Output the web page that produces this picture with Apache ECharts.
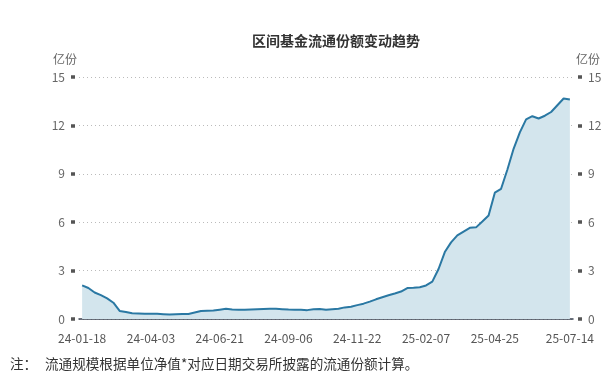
<!DOCTYPE html>
<html>
<head>
    <meta charset="utf-8">
    <title>区间基金流通份额变动趋势</title>
    <script src="https://cdn.jsdelivr.net/npm/echarts@6/dist/echarts.min.js"></script>
    <style type="text/css">
        body { margin: 0; background: #fff; }
        #main { width: 616px; height: 378px; }
    </style>
</head>
<body>
<div id="main"></div>
<script>
    // 日期（周度）
    var dates = [
        '24-01-18', '24-01-25', '24-02-01', '24-02-08', '24-02-15', '24-02-22', '24-02-29', '24-03-07', '24-03-14', '24-03-21', '24-03-28',
        '24-04-03', '24-04-12', '24-04-19', '24-04-26', '24-04-30', '24-05-10', '24-05-17', '24-05-24', '24-05-31', '24-06-07', '24-06-14',
        '24-06-21', '24-06-28', '24-07-05', '24-07-12', '24-07-19', '24-07-26', '24-08-02', '24-08-09', '24-08-16', '24-08-23', '24-08-30',
        '24-09-06', '24-09-13', '24-09-20', '24-09-27', '24-09-30', '24-10-11', '24-10-18', '24-10-25', '24-11-01', '24-11-08', '24-11-15',
        '24-11-22', '24-11-29', '24-12-06', '24-12-13', '24-12-20', '24-12-27', '25-01-03', '25-01-10', '25-01-17', '25-01-24', '25-01-27',
        '25-02-07', '25-02-14', '25-02-21', '25-02-28', '25-03-07', '25-03-14', '25-03-21', '25-03-28', '25-04-03', '25-04-11', '25-04-18',
        '25-04-25', '25-04-30', '25-05-09', '25-05-16', '25-05-23', '25-05-30', '25-06-06', '25-06-13', '25-06-20', '25-06-27', '25-07-04',
        '25-07-11', '25-07-14'
    ];
    // 流通份额（亿份）
    var shares = [
        2.08, 1.92, 1.64, 1.48, 1.28, 1.01, 0.50, 0.44, 0.36, 0.34, 0.32,
        0.33, 0.32, 0.30, 0.28, 0.30, 0.31, 0.31, 0.40, 0.49, 0.51, 0.52,
        0.58, 0.63, 0.59, 0.58, 0.57, 0.59, 0.61, 0.62, 0.63, 0.63, 0.61,
        0.59, 0.58, 0.57, 0.55, 0.60, 0.62, 0.57, 0.60, 0.63, 0.72, 0.76,
        0.86, 0.95, 1.08, 1.22, 1.35, 1.47, 1.58, 1.70, 1.92, 1.93, 1.97,
        2.08, 2.32, 3.10, 4.15, 4.75, 5.18, 5.42, 5.65, 5.68, 6.04, 6.42,
        7.83, 8.07, 9.25, 10.55, 11.57, 12.37, 12.57, 12.43, 12.60, 12.83, 13.25,
        13.67, 13.60
    ];
    var yTicks = [0, 3, 6, 9, 12, 15];
    var unitName = '亿份';
    var titleText = '区间基金流通份额变动趋势';
    var noteLabel = '注：';
    var noteText = '流通规模根据单位净值*对应日期交易所披露的流通份额计算。';

    var fontFamily = '"Noto Sans CJK SC", "Noto Sans", sans-serif';
    var lastIdx = dates.length - 1;

    // 每11周一个标签，末尾标签改为最后一天
    function showLabel(i) {
        if (i === lastIdx) return true;
        if (i >= lastIdx - 4) return false;
        return i % 11 === 0;
    }
    function showTick(i) {
        return i % 11 === 0 || i >= lastIdx - 1;
    }

    function yAxisCfg(pos) {
        var left = pos === 'left';
        return {
            type: 'value',
            position: pos,
            name: unitName,
            nameLocation: 'end',
            nameGap: 12,
            nameTextStyle: {
                color: '#666',
                fontSize: 12,
                fontFamily: fontFamily,
                align: left ? 'right' : 'left',
                padding: left ? [0, -2, 0, 0] : [0, 0, 0, -2]
            },
            min: yTicks[0],
            max: yTicks[yTicks.length - 1],
            interval: 3,
            offset: left ? 4 : 5,
            axisLine: { show: false },
            axisTick: {
                show: true,
                length: 4,
                lineStyle: { color: '#555', width: 3.5 }
            },
            axisLabel: {
                color: '#666',
                fontSize: 12,
                fontFamily: fontFamily,
                margin: 10
            },
            splitLine: {
                show: left,
                lineStyle: { color: '#bbb', type: [1, 3], width: 1 }
            }
        };
    }

    var myChart = echarts.init(document.getElementById('main'));
    var option = {
        animation: false,
        backgroundColor: '#fff',
        title: {
            text: titleText,
            left: 247,
            top: 29,
            textStyle: {
                color: '#333',
                fontSize: 14,
                fontWeight: 'bold',
                fontFamily: fontFamily
            }
        },
        grid: {
            left: 79,
            right: 43,
            top: 77,
            bottom: 59,
            containLabel: false
        },
        xAxis: {
            type: 'category',
            data: dates,
            boundaryGap: true,
            axisLine: { lineStyle: { color: '#3a4250', width: 1.5 } },
            axisTick: {
                length: 4,
                interval: function (i) { return showTick(i); },
                lineStyle: { color: '#666', width: 1 }
            },
            axisLabel: {
                color: '#555',
                fontSize: 12,
                fontFamily: fontFamily,
                margin: 13,
                interval: function (i) { return showLabel(i); }
            }
        },
        yAxis: [yAxisCfg('left'), yAxisCfg('right')],
        series: [{
            type: 'line',
            data: shares,
            yAxisIndex: 0,
            showSymbol: false,
            symbol: 'none',
            lineStyle: { color: '#2a78a3', width: 2 },
            itemStyle: { color: '#2a78a3' },
            areaStyle: { color: '#d3e5ed', opacity: 1 }
        }],
        graphic: [
            {
                type: 'text',
                left: 10,
                top: 357,
                style: { text: noteLabel, fill: '#333', fontSize: 13.6, fontFamily: fontFamily }
            },
            {
                type: 'text',
                left: 45,
                top: 357,
                style: { text: noteText, fill: '#333', fontSize: 13.6, fontFamily: fontFamily }
            }
        ]
    };
    myChart.setOption(option);
</script>
</body>
</html>
